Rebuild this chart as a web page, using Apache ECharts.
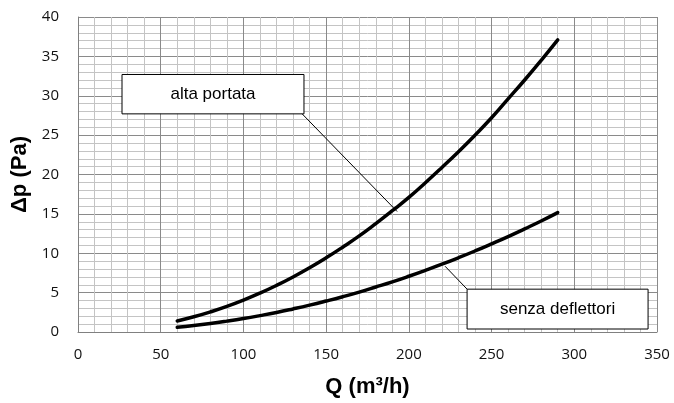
<!DOCTYPE html>
<html><head><meta charset="utf-8">
<script src="https://cdn.jsdelivr.net/npm/echarts@6/dist/echarts.min.js"></script>
<style>html,body{margin:0;padding:0;background:#fff}#c{width:674px;height:403px}</style>
</head><body><div id="c"></div>
<script>
var flowQ = [60,70,80,90,100,110,120,130,140,150,160,170,180,190,200,210,220,230,240,250,260,270,280,290];
var altaPortata = [1.4,1.93,2.55,3.25,4.05,4.94,5.92,6.99,8.16,9.42,10.77,12.2,13.76,15.4,17.1,18.96,20.9,22.9,25.0,27.2,29.6,32.0,34.5,37.1];
var senzaDeflettori = [0.6,0.82,1.08,1.38,1.71,2.08,2.48,2.93,3.41,3.93,4.48,5.07,5.71,6.37,7.08,7.83,8.61,9.43,10.29,11.19,12.12,13.1,14.1,15.16];
var xTicks = [0,50,100,150,200,250,300,350];
var yTicks = [0,5,10,15,20,25,30,35,40];
var labelAlta = 'alta portata';
var labelSenza = 'senza deflettori';
// annotation anchors in data units
var boxAlta = [[26.6,32.7],[136.6,27.7]];
var ptrAlta = [[135.5,27.7],[192.9,15.3]];
var boxSenza = [[235.2,5.44],[344.6,0.38]];
var ptrSenza = [[235.2,5.44],[221.9,8.35]];

function pairs(xs, ys){ return xs.map(function(x,i){return [x, ys[i]];}); }
var font = '"Liberation Sans", Arial, sans-serif';
var tickFont = '"Open Sans", "Noto Sans", sans-serif';

var chart = echarts.init(document.getElementById('c'));
function annot(box, ptr, text, fs){
  return {
    markArea: {
      silent: true,
      itemStyle: {color:'#ffffff', borderColor:'#000000', borderWidth:1},
      label: {show:true, position:'inside', color:'#000', fontFamily:font, fontSize:fs, formatter:text},
      data: [[{coord: box[0]}, {coord: box[1]}]]
    },
    markLine: {
      silent: true, symbol:['none','none'],
      lineStyle: {color:'#000', width:1, type:'solid'},
      label: {show:false},
      data: [[{coord: ptr[0]}, {coord: ptr[1]}]]
    }
  };
}
var s1 = Object.assign({type:'line', name:labelAlta, data:pairs(flowQ, altaPortata), smooth:0.5, showSymbol:false,
  lineStyle:{color:'#000', width:3.5, cap:'round'}, itemStyle:{color:'#000'}}, annot(boxAlta, ptrAlta, labelAlta, 17));
var s2 = Object.assign({type:'line', name:labelSenza, data:pairs(flowQ, senzaDeflettori), smooth:0.5, showSymbol:false,
  lineStyle:{color:'#000', width:3.5, cap:'round'}, itemStyle:{color:'#000'}}, annot(boxSenza, ptrSenza, labelSenza, 17));

chart.setOption({
  animation:false,
  grid:{left:78, right:17, top:17, bottom:70},
  xAxis:{type:'value', min:xTicks[0], max:xTicks[xTicks.length-1], interval:50,
    name:'Q (m³/h)', nameLocation:'middle', nameGap:44,
    nameTextStyle:{fontFamily:font, fontWeight:'bold', fontSize:22, color:'#000'},
    axisLine:{show:true, lineStyle:{color:'#808080', width:1}},
    axisTick:{show:false},
    axisLabel:{fontFamily:tickFont, fontSize:15, color:'#111', margin:15},
    splitLine:{show:true, lineStyle:{color:'#8a8a8a', width:1}},
    minorTick:{show:false, splitNumber:5},
    minorSplitLine:{show:true, lineStyle:{color:'#c4c4c4', width:1}}
  },
  yAxis:{type:'value', min:yTicks[0], max:yTicks[yTicks.length-1], interval:5,
    name:'Δp (Pa)', nameLocation:'middle', nameGap:46, nameRotate:90,
    nameTextStyle:{fontFamily:font, fontWeight:'bold', fontSize:22, color:'#000'},
    axisLine:{show:true, lineStyle:{color:'#808080', width:1}},
    axisTick:{show:false},
    axisLabel:{fontFamily:tickFont, fontSize:15, color:'#111', margin:19},
    splitLine:{show:true, lineStyle:{color:'#8a8a8a', width:1}},
    minorTick:{show:false, splitNumber:5},
    minorSplitLine:{show:true, lineStyle:{color:'#c4c4c4', width:1}}
  },
  series:[s1, s2]
});
</script></body></html>
